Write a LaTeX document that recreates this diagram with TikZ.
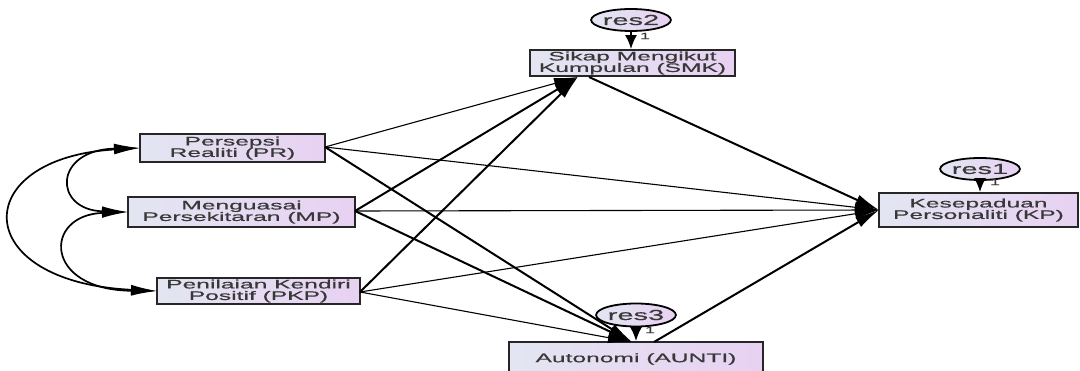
\documentclass[tikz,border=0pt]{standalone}
\usepackage{fontspec}
\setmainfont{Liberation Sans}[FakeStretch=2.0,FakeBold=0.6]
\usetikzlibrary{arrows.meta,shapes.geometric}
\definecolor{boxL}{rgb}{0.89,0.90,0.95}
\definecolor{boxR}{rgb}{0.91,0.82,0.95}
\definecolor{txt}{rgb}{0.22,0.22,0.22}
\begin{document}
\begin{tikzpicture}[x=1pt,y=-1pt,
  box/.style={draw=black!85, line width=1.7pt, left color=boxL, right color=boxR,
    inner sep=0pt, align=center, text=txt, font=\fontsize{12.3}{11.5}\selectfont},
  res/.style={ellipse, draw=black, line width=1.8pt, left color=boxL, right color=boxR,
    inner sep=0pt, minimum width=58pt, minimum height=22pt, text=txt,
    font=\fontsize{14.5}{14}\selectfont},
  one/.style={font=\fontsize{9}{9}\selectfont, inner sep=0pt, text=txt},
  tip/.style={-{Latex[length=24pt,width=11pt]}},
  rtip/.style={-{Latex[length=14pt,width=12pt]}},
  thinarr/.style={line width=1.1pt, tip},
  thickarr/.style={line width=2.0pt, tip},
  cov/.style={line width=1.7pt, {Latex[length=26pt,width=10pt]}-{Latex[length=26pt,width=10pt]}}
]
\useasboundingbox (0,0) rectangle (1080,371);
\clip (0,0) rectangle (1080,371);
\fill[white] (0,0) rectangle (1080,371);

% boxes
\node[box, minimum width=185pt, minimum height=28pt] (PR) at (232.5,148) {Persepsi\\Realiti (PR)};
\node[box, minimum width=227pt, minimum height=30pt] (MP) at (241.5,212) {Menguasai\\Persekitaran (MP)};
\node[box, minimum width=203pt, minimum height=26pt] (PKP) at (258.5,291) {Penilaian Kendiri\\Positif (PKP)};
\node[box, minimum width=205pt, minimum height=26pt] (SMK) at (632.5,63) {Sikap Mengikut\\Kumpulan (SMK)};
\node[box, minimum width=199pt, minimum height=34pt] (KP) at (978.5,210) {Kesepaduan\\Personaliti (KP)};
\node[box, minimum width=254pt, minimum height=34pt] (AU) at (636,359) {\raisebox{1.5pt}{Autonomi (AUNTI)}};

% residuals
\node[res] (r2) at (631,20) {res2};
\node[res, minimum width=54pt] (r1) at (980,169) {res1};
\node[res, minimum height=23pt] (r3) at (636,315) {res3};

\draw[line width=2pt, rtip] (r2.south) -- (SMK.north -| r2.south);
\draw[line width=2pt, rtip] (r1.south) -- (KP.north -| r1.south);
\draw[line width=2pt, rtip] (r3.south) -- (AU.north -| r3.south);
\node[one] (o2) at (645,36) {1};
\node[one] (o1) at (995,182) {1};
\node[one] (o3) at (650,330) {1};

% anchor coordinates
\coordinate (PRs) at (325,147);
\coordinate (MPs) at (355,211);
\coordinate (PKPs) at (360,292);
\coordinate (SMKt) at (578,77);
\coordinate (SMKs) at (589,77);
\coordinate (KPt) at (879,210);
\coordinate (AUt) at (632,342);
\coordinate (AUs) at (654,342);

% paths
\draw[thinarr] (PRs) -- (SMKt);
\draw[thinarr] (PRs) -- (KPt);
\draw[thickarr] (PRs) -- (AUt);
\draw[thickarr] (MPs) -- (SMKt);
\draw[thinarr] (MPs) -- (KPt);
\draw[thickarr] (MPs) -- (AUt);
\draw[thickarr] (PKPs) -- (SMKt);
\draw[thinarr] (PKPs) -- (KPt);
\draw[thinarr] (PKPs) -- (AUt);
\draw[thickarr] (SMKs) -- (KPt);
\draw[thickarr] (AUs) -- (KPt);

% covariances
\coordinate (PRl) at (140,148);
\coordinate (MPl) at (128,212);
\coordinate (PKPl) at (157,291);
\draw[cov] (PRl) .. controls (53,150) and (53,210) .. (MPl);
\draw[cov] (MPl) .. controls (43,215) and (43,290) .. (PKPl);
\draw[cov] (PRl) .. controls (-32,158) and (-32,282) .. (PKPl);
\end{tikzpicture}
\end{document}
